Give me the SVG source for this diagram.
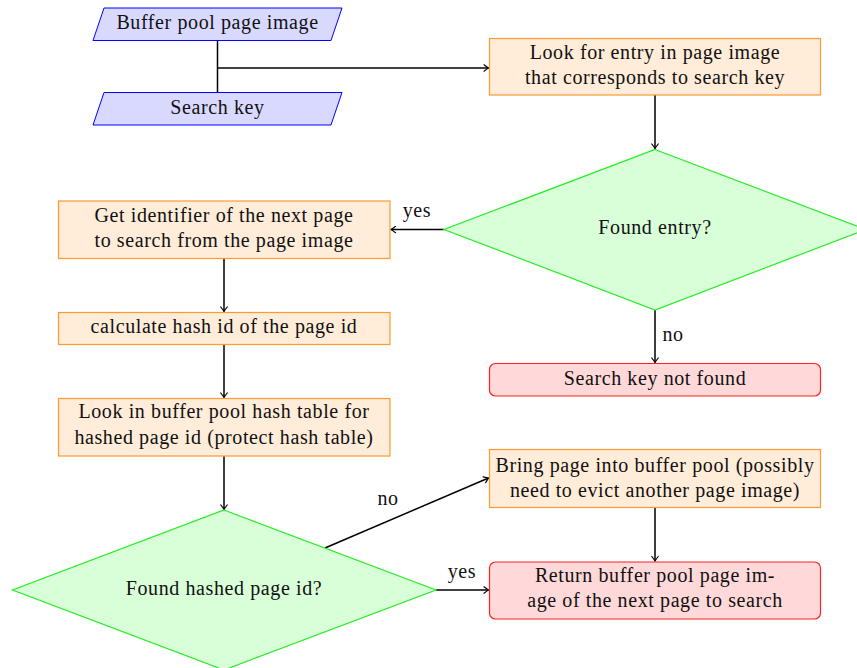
<svg xmlns="http://www.w3.org/2000/svg" width="857" height="668" viewBox="0 0 857 668">
  <style>
    text { font-family: "Liberation Serif", "Times New Roman", serif; font-size: 20px; letter-spacing: 0.6px; fill: #111; text-anchor: middle; }
    .io { fill: #d9d9ff; stroke: #0000ff; stroke-width: 1; }
    .proc { fill: #ffecd9; stroke: #ff9a33; stroke-width: 1.2; }
    .dec { fill: #d9ffd9; stroke: #22ee22; stroke-width: 1.2; }
    .term { fill: #ffd9d9; stroke: #ff2020; stroke-width: 1.2; }
    .edge { fill: none; stroke: #000; stroke-width: 1.5; }
    .arrow { marker-end: url(#tip); }
  </style>
  <defs>
    <marker id="tip" viewBox="-6 -4 7 8" refX="0" refY="0" markerWidth="7" markerHeight="8" markerUnits="userSpaceOnUse" orient="auto">
      <path d="M -4.5,-3.2 Q -1.2,-0.6 0,0 Q -1.2,0.6 -4.5,3.2" fill="none" stroke="#000" stroke-width="1.2" stroke-linecap="round"/>
    </marker>
  </defs>

  <!-- connectors -->
  <g id="connectors">
    <path class="edge" d="M 217.5,40.5 V 92.5"/>
    <path class="edge arrow" d="M 217.5,68 H 488.5"/>
    <path class="edge arrow" d="M 655,95 V 148.5"/>
    <path class="edge arrow" d="M 444,229.5 H 391"/>
    <path class="edge arrow" d="M 655,310 V 362.5"/>
    <path class="edge arrow" d="M 224,258.5 V 311.5"/>
    <path class="edge arrow" d="M 224,344.5 V 397.5"/>
    <path class="edge arrow" d="M 224,456 V 509.5"/>
    <path class="edge arrow" d="M 325,548 L 488.5,478"/>
    <path class="edge arrow" d="M 436,590 H 488.5"/>
    <path class="edge arrow" d="M 655,507.5 V 561"/>
    <text x="417" y="216.5">yes</text>
    <text x="673" y="341">no</text>
    <text x="388" y="505">no</text>
    <text x="462" y="578">yes</text>
  </g>

  <!-- inputs -->
  <g id="bufferPoolPageImage">
    <polygon class="io" points="104,8 342,8 331,40.5 93,40.5"/>
    <text x="217.5" y="29">Buffer pool page image</text>
  </g>
  <g id="searchKey">
    <polygon class="io" points="104,92.5 342,92.5 331,125 93,125"/>
    <text x="217.5" y="114">Search key</text>
  </g>

  <!-- processes -->
  <g id="lookForEntry">
    <rect class="proc" x="489.5" y="38.5" width="331" height="56.5"/>
    <text x="655" y="59">Look for entry in page image</text>
    <text x="655" y="84">that corresponds to search key</text>
  </g>
  <g id="foundEntry">
    <polygon class="dec" points="655,149.5 866,229.5 655,310 444,229.5"/>
    <text x="655" y="234">Found entry?</text>
  </g>
  <g id="getIdentifier">
    <rect class="proc" x="58.5" y="201" width="331.5" height="57.5"/>
    <text x="224" y="222">Get identifier of the next page</text>
    <text x="224" y="247">to search from the page image</text>
  </g>
  <g id="calcHash">
    <rect class="proc" x="58.5" y="312.5" width="331.5" height="32"/>
    <text x="224" y="333">calculate hash id of the page id</text>
  </g>
  <g id="lookInHashTable">
    <rect class="proc" x="58.5" y="398.5" width="331.5" height="57.5"/>
    <text x="224" y="418">Look in buffer pool hash table for</text>
    <text x="224" y="443.5">hashed page id (protect hash table)</text>
  </g>
  <g id="searchKeyNotFound">
    <rect class="term" x="489.5" y="363.5" width="331" height="32.5" rx="6"/>
    <text x="655" y="385">Search key not found</text>
  </g>
  <g id="foundHashedPageId">
    <polygon class="dec" points="224,510 436,590 224,670 12.5,590"/>
    <text x="224" y="594.5">Found hashed page id?</text>
  </g>
  <g id="bringPage">
    <rect class="proc" x="489.5" y="449.5" width="331" height="58"/>
    <text x="655" y="472">Bring page into buffer pool (possibly</text>
    <text x="655" y="496.5">need to evict another page image)</text>
  </g>
  <g id="returnPage">
    <rect class="term" x="489.5" y="562" width="331" height="57" rx="6"/>
    <text x="655" y="582">Return buffer pool page im-</text>
    <text x="655" y="607">age of the next page to search</text>
  </g>
</svg>
